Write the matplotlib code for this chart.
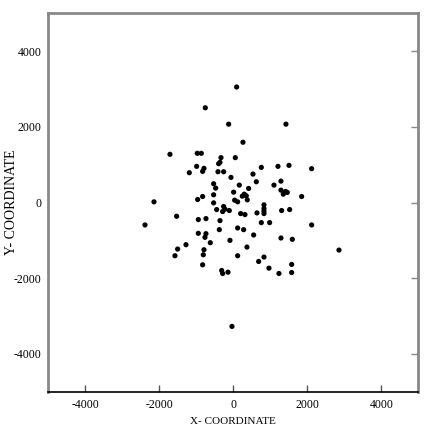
import matplotlib
matplotlib.use("Agg")
import matplotlib.pyplot as plt

x_vals = [90, -757, -126, 1423, 261, -1712, -973, -865, -333, 54,
          -360, -396, -991, -793, -829, -1189, -414, -261, -63, 757,
          1207, 1505, 2117, 532, 622, 1099, 1288, -532, -477, 162,
          414, 9, 297, 351, 243, 378, -532, -829, -964, 36,
          117, -2144, 1288, 1414, 1351, 1459, 1847, -532, -261, -450,
          -288, -108, -225, 198, 315, 829, 829, 829, 829, 640,
          1306, 1523, -1532, -946, -739, -360, 757, 982, -2387, 2117,
          -378, 117, 279, -946, -739, -766, 550, 1288, 1595, -622,
          -90, -1279, -1505, 369, -793, -811, -1577, 117, 829, 685,
          -829, 1577, 964, -315, -288, -144, 1234, 1577, 2856, -36]
y_vals = [3053, 2504, 2071, 2071, 1593, 1274, 1301, 1301, 1186, 1186,
          1062, 1027, 956, 903, 823, 788, 814, 814, 664, 929,
          956, 982, 894, 752, 549, 460, 566, 496, 381, 460,
          372, 274, 221, 177, 168, 71, 204, 159, 80, 62,
          18, 18, 327, 292, 221, 266, 159, -9, -106, -186,
          -239, -212, -177, -292, -319, -62, -160, -230, -292, -274,
          -212, -186, -363, -451, -425, -478, -531, -531, -593, -593,
          -717, -673, -717, -814, -823, -920, -858, -938, -973, -1062,
          -1000, -1115, -1230, -1177, -1248, -1381, -1407, -1407, -1442, -1558,
          -1646, -1637, -1735, -1796, -1876, -1841, -1876, -1850, -1257, -3274]

x_ticks = [-4000, -2000, 0, 2000, 4000]
y_ticks = [-4000, -2000, 0, 2000, 4000]
x_label = "X- COORDINATE"
y_label = "Y- COORDINATE"

plt.rcParams['font.family'] = ['Liberation Serif', 'DejaVu Serif']

fig = plt.figure(figsize=(4.36, 4.36), dpi=100)
ax = fig.add_axes([0.1108, 0.1016, 0.8486, 0.8678])
ax.scatter(x_vals, y_vals, s=14, c='black', edgecolors='none', zorder=3)

ax.set_xlim(-5000, 5000)
ax.set_ylim(-5000, 5000)
ax.set_xticks(x_ticks)
ax.set_yticks(y_ticks)
ax.set_xticklabels([str(t) for t in x_ticks])
ax.set_yticklabels([str(t) for t in y_ticks])
ax.tick_params(axis='both', direction='in', length=5, width=1, labelsize=8.5,
               colors='black', pad=5)
ax.tick_params(axis='y', right=True, left=False, labelleft=True, labelright=False,
               color='#888888')
ax.tick_params(axis='x', top=False, bottom=True, color='#555555')

for side in ['left', 'right', 'top']:
    ax.spines[side].set_color('#888888')
    ax.spines[side].set_linewidth(2)
ax.spines['bottom'].set_color('black')
ax.spines['bottom'].set_linewidth(1.2)

ax.set_xlabel(x_label, fontsize=8)
ax.set_ylabel(y_label, fontsize=10)
ax.xaxis.set_label_coords(0.5, -0.067)
ax.yaxis.set_label_coords(-0.083, 0.5)

fig.savefig("out.png", dpi=100)
